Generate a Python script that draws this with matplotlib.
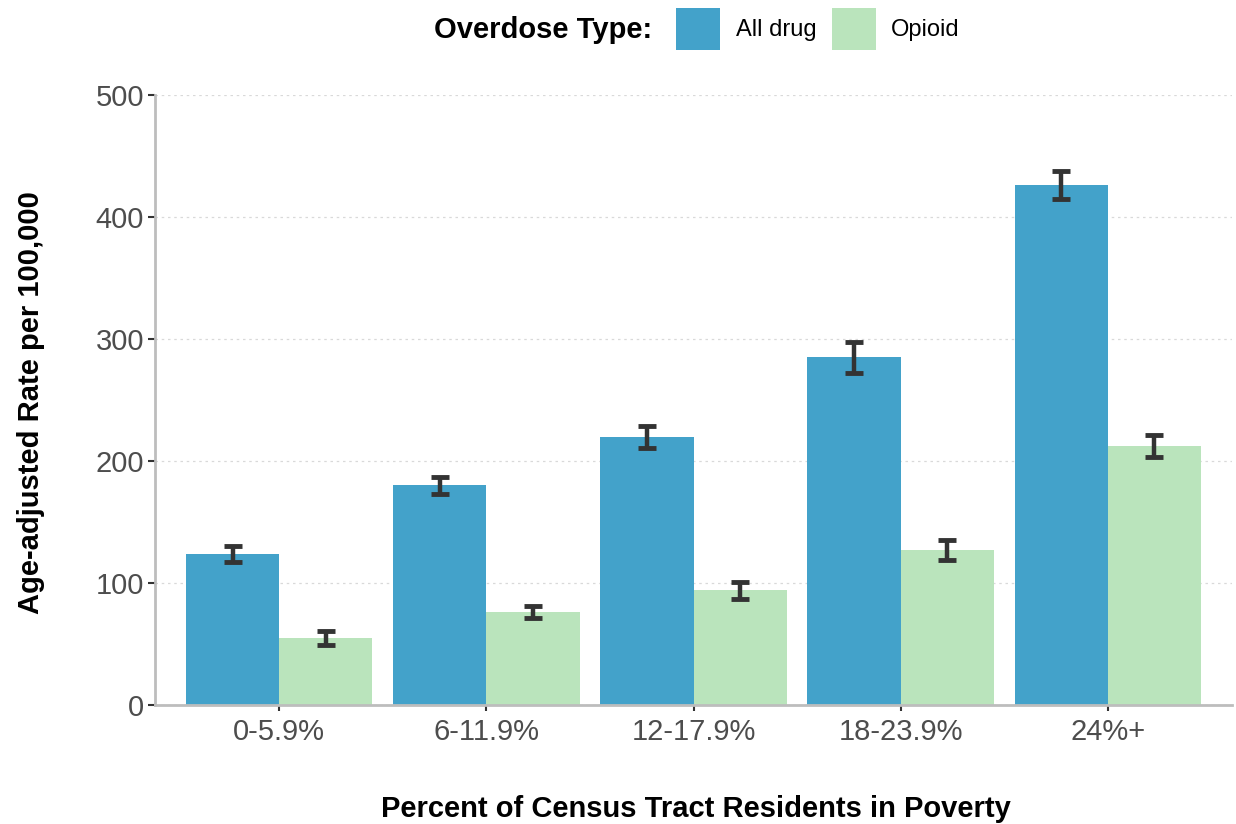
import numpy as np
import matplotlib
matplotlib.use('Agg')
import matplotlib.pyplot as plt
from matplotlib.patches import Patch

plt.rcParams['font.family'] = ['Liberation Sans', 'DejaVu Sans']

categories = ['0-5.9%', '6-11.9%', '12-17.9%', '18-23.9%', '24%+']
series = ['All drug', 'Opioid']
all_drug = [124, 180, 220, 285, 426]
all_drug_err = [6.5, 7, 9, 12.5, 11.5]
opioid = [55, 76, 94, 127, 212]
opioid_err = [5.5, 5, 7, 8.5, 9]
colors = ['#43a2ca', '#bae4bc']

fig = plt.figure(figsize=(12.36, 8.24), dpi=100)
ax = fig.add_axes([0.1254, 0.1444, 0.8714, 0.7403])

x = np.arange(len(categories))
w = 0.45
for i, (vals, errs) in enumerate([(all_drug, all_drug_err), (opioid, opioid_err)]):
    pos = x + (i - 0.5) * w
    ax.bar(pos, vals, width=w, color=colors[i], zorder=2)
    ax.errorbar(pos, vals, yerr=errs, fmt='none', ecolor='#333333',
                elinewidth=3.2, capsize=6.5, capthick=3.5, zorder=3)

ax.set_xlim(-0.6, 4.6)
ax.set_ylim(0, 500)
ax.set_yticks([0, 100, 200, 300, 400, 500])
ax.set_xticks(x)
ax.set_xticklabels(categories)
ax.yaxis.grid(True, linestyle=(0, (2, 3)), color='#d9d9d9', linewidth=0.9, zorder=0)
ax.set_axisbelow(True)

for s in ['top', 'right']:
    ax.spines[s].set_visible(False)
for s in ['left', 'bottom']:
    ax.spines[s].set_color('#bdbdbd')
    ax.spines[s].set_linewidth(2)
ax.tick_params(axis='y', length=5, width=1.5, color='#333333', labelsize=21,
               labelcolor='#4d4d4d', pad=3)
ax.tick_params(axis='x', length=4, width=1.5, color='#333333', labelsize=21,
               labelcolor='#4d4d4d', pad=5)

fig.text(0.025, 0.512, 'Age-adjusted Rate per 100,000', rotation=90,
         ha='center', va='center', fontsize=21, fontweight='bold')
fig.text(0.563, 0.018, 'Percent of Census Tract Residents in Poverty',
         ha='center', va='center', fontsize=21, fontweight='bold')

# legend across the top
fig.text(0.528, 0.963, 'Overdose Type:', ha='right', va='center',
         fontsize=21, fontweight='bold')
handles = [Patch(facecolor=c, edgecolor='none') for c in colors]
fig.legend(handles, series, loc='center left', bbox_to_anchor=(0.547, 0.965),
           ncol=2, frameon=False, fontsize=17, handlelength=1.87, handleheight=2.35,
           handletextpad=0.65, columnspacing=0.65, borderpad=0, borderaxespad=0)

fig.savefig('out.png', dpi=100)
